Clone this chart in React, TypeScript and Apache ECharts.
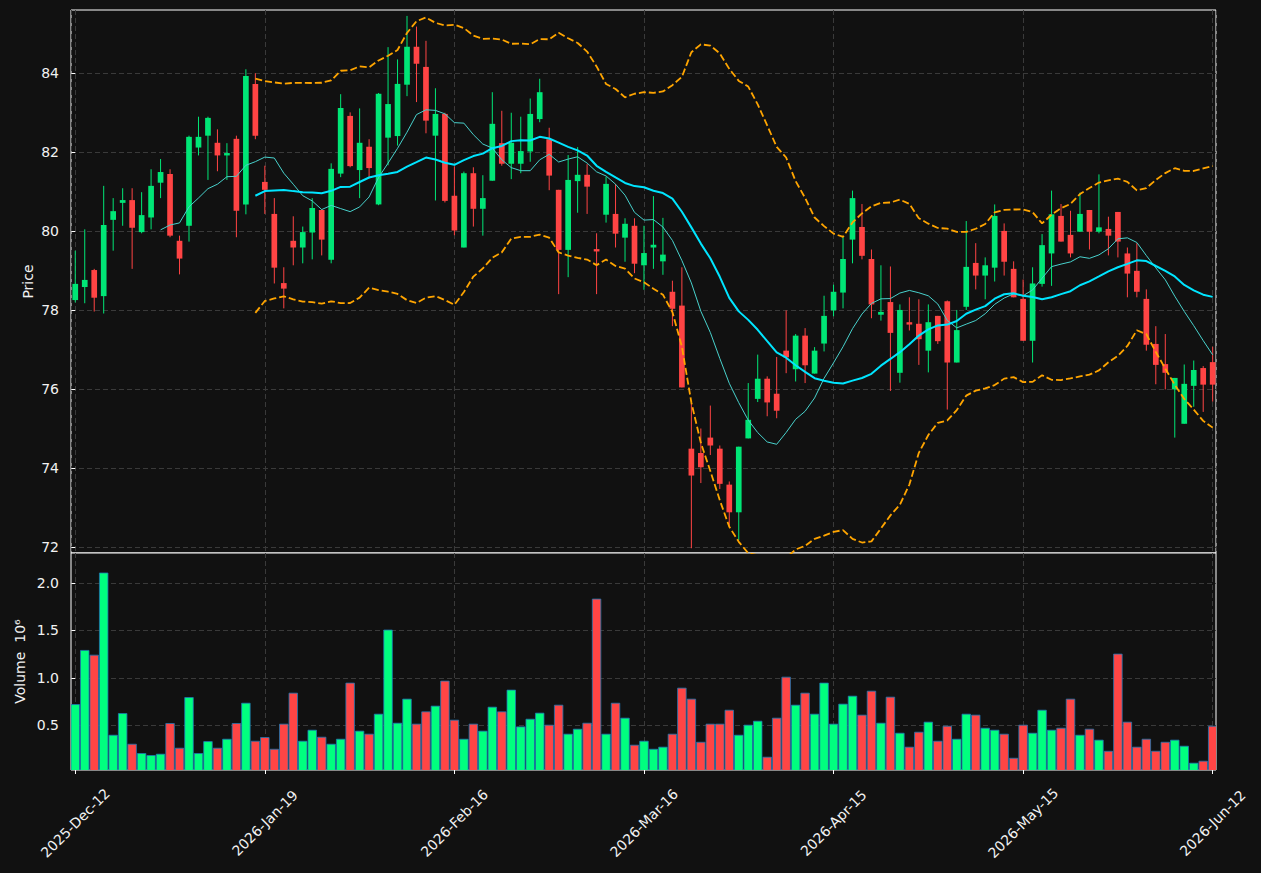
import React, { useEffect, useRef } from 'react';
import * as echarts from 'echarts';

const opens = [78.26,78.59,79.02,78.36,80.29,80.72,80.79,79.98,80.35,81.23,
81.45,79.76,80.14,82.12,82.42,82.24,81.92,82.34,80.68,83.73,
81.25,80.44,78.69,79.76,79.59,79.97,80.54,79.28,81.46,82.92,
81.55,82.14,80.68,82.37,82.41,83.71,84.67,84.16,82.42,82.97,
80.90,79.59,81.47,80.57,81.28,82.23,81.71,81.71,82.02,82.84,
82.33,81.05,79.53,81.27,81.43,79.55,80.42,80.44,79.84,80.14,
79.14,79.59,79.24,78.47,78.12,74.50,74.39,74.78,74.50,73.59,
72.89,74.76,75.76,76.27,75.89,76.98,76.51,77.36,76.40,77.16,
78.00,78.45,79.79,80.11,79.30,77.89,78.21,76.42,77.70,77.66,
76.98,77.86,78.23,76.68,78.09,79.20,78.88,79.08,80.01,79.05,
78.29,77.23,78.67,79.44,80.39,79.91,79.99,80.54,79.99,80.06,
80.49,79.44,79.00,78.29,77.15,76.64,76.00,75.13,76.09,76.54,
76.69];

const closes = [78.67,78.77,78.32,80.16,80.51,80.79,80.09,80.41,81.15,81.50,
79.89,79.31,82.39,82.39,82.87,81.92,81.98,80.52,83.93,82.42,
81.05,79.08,78.55,79.59,79.98,80.59,79.79,81.58,83.12,81.65,
82.24,81.60,83.48,83.22,83.73,84.67,84.24,82.80,82.97,80.77,
80.02,81.47,80.57,80.84,82.72,81.71,82.24,82.03,82.97,83.52,
81.41,79.53,81.30,81.43,81.13,79.49,81.20,79.94,80.19,79.18,
79.45,79.66,79.41,78.04,76.05,73.82,74.03,74.58,73.61,72.89,
74.55,75.23,76.27,75.67,75.46,76.81,77.36,76.61,76.98,77.86,
78.47,79.30,80.84,79.38,78.15,77.96,77.43,78.01,77.64,77.27,
77.70,77.22,76.68,77.50,79.10,78.88,79.14,80.39,79.23,78.33,
77.23,78.68,79.65,80.43,79.74,79.44,80.44,79.99,80.10,79.89,
79.74,78.93,78.47,77.13,76.62,76.42,76.29,76.14,76.49,76.12,
76.12];

const lows = [78.20,78.18,77.97,77.92,79.51,80.14,79.05,79.95,80.05,80.84,
79.85,78.91,79.74,81.92,81.30,81.52,81.30,79.85,80.43,82.33,
80.44,78.68,78.05,79.14,79.19,79.29,79.39,79.19,81.37,81.62,
80.84,81.34,80.66,81.67,82.17,83.42,83.27,82.48,80.78,80.73,
79.90,79.59,80.12,79.89,81.28,81.66,81.32,81.47,81.76,82.76,
81.04,78.41,78.84,80.47,80.44,78.41,80.22,79.59,79.23,78.94,
78.52,79.05,78.90,77.60,76.05,71.98,73.63,74.34,73.48,72.53,
72.19,74.76,75.68,75.32,75.27,76.41,76.20,76.16,76.40,76.96,
77.85,78.05,79.19,79.29,77.80,77.74,75.96,76.17,77.49,76.62,
76.43,77.15,75.49,76.68,78.01,78.53,78.28,78.73,78.88,78.33,
77.23,76.68,78.60,78.62,79.74,79.34,79.99,79.54,79.95,79.39,
79.34,78.33,78.33,76.98,76.13,76.00,74.78,75.13,75.56,75.43,
75.69];

const highs = [79.51,80.05,79.05,81.15,80.84,81.09,81.09,80.99,81.57,81.83,
81.57,79.89,82.42,82.90,82.90,82.58,82.23,82.42,84.10,84.00,
81.66,80.84,79.09,80.38,80.12,80.84,80.56,81.72,83.47,83.01,
83.11,82.33,83.50,84.66,84.35,85.45,85.18,84.82,83.62,83.00,
81.64,81.51,81.62,81.42,83.52,83.05,83.00,82.90,83.36,83.86,
82.62,81.05,81.93,82.13,81.70,79.95,81.38,81.20,80.33,80.33,
80.14,80.89,80.34,78.75,79.09,75.65,75.01,75.59,74.58,73.67,
74.55,76.16,76.88,76.33,76.82,78.00,77.40,77.55,77.07,78.37,
78.65,79.86,81.03,80.69,79.54,79.14,79.11,78.15,78.33,78.28,
78.15,77.86,78.25,78.01,80.26,79.70,79.34,80.68,80.20,79.24,
78.78,79.09,79.93,81.03,80.69,80.52,80.98,80.54,81.44,80.37,
80.49,79.59,79.70,78.53,77.60,77.40,76.29,76.63,76.73,76.59,
77.08];

// volume in millions
const volumes = [0.718,1.289,1.239,2.106,0.394,0.623,0.299,0.201,0.180,0.194,
0.518,0.257,0.792,0.201,0.327,0.257,0.352,0.518,0.732,0.331,
0.370,0.246,0.511,0.838,0.331,0.447,0.373,0.299,0.352,0.944,
0.437,0.405,0.616,1.504,0.521,0.775,0.511,0.641,0.701,0.965,
0.553,0.352,0.511,0.437,0.690,0.641,0.870,0.482,0.563,0.627,
0.500,0.711,0.405,0.458,0.521,1.831,0.405,0.732,0.574,0.289,
0.331,0.246,0.268,0.405,0.891,0.775,0.320,0.511,0.511,0.658,
0.394,0.500,0.542,0.162,0.574,1.007,0.711,0.838,0.616,0.944,
0.511,0.722,0.806,0.606,0.859,0.521,0.796,0.415,0.268,0.426,
0.532,0.331,0.489,0.352,0.616,0.606,0.468,0.447,0.405,0.151,
0.500,0.415,0.658,0.447,0.468,0.775,0.394,0.458,0.342,0.225,
1.250,0.532,0.268,0.352,0.225,0.320,0.342,0.278,0.099,0.120,
0.489];

const tickIndex = [0, 20, 40, 60, 80, 100, 120];
const tickLabels = ['2025-Dec-12', '2026-Jan-19', '2026-Feb-16', '2026-Mar-16', '2026-Apr-15', '2026-May-15', '2026-Jun-12'];
const priceTicks = [72, 74, 76, 78, 80, 82, 84];
const volumeTicks = [0.5, 1.0, 1.5, 2.0];

const BG = '#111111';
const TEXT = '#f2f2f2';
const GRID = '#3a3a3a';
const UP = '#00e676';
const DOWN = '#ff4444';
const VUP = '#00ff7f';
const VDOWN = '#ff4545';
const FONT = 'DejaVu Sans';

function rollingMean(values: number[], n: number): (number | null)[] {
  return values.map((_, i) => {
    if (i < n - 1) return null;
    let s = 0;
    for (let k = i - n + 1; k <= i; k++) s += values[k];
    return s / n;
  });
}

function rollingStd(values: number[], n: number): (number | null)[] {
  const m = rollingMean(values, n);
  return values.map((_, i) => {
    const mu = m[i];
    if (mu === null) return null;
    let s = 0;
    for (let k = i - n + 1; k <= i; k++) s += (values[k] - mu) * (values[k] - mu);
    return Math.sqrt(s / n);
  });
}

function toPairs(arr: (number | null)[]) {
  const out: number[][] = [];
  arr.forEach((v, i) => { if (v !== null) out.push([i, v]); });
  return out;
}

export default function App() {
  const ref = useRef<HTMLDivElement>(null);
  useEffect(() => {
    if (!ref.current) return;
    const chart = echarts.init(ref.current, null, { renderer: 'svg' });

    const sma10 = rollingMean(closes, 10);
    const sma20 = rollingMean(closes, 20);
    const std20 = rollingStd(closes, 20);
    const upper = sma20.map((m, i) => (m === null ? null : m + 2 * (std20[i] as number)));
    const lower = sma20.map((m, i) => (m === null ? null : m - 2 * (std20[i] as number)));

    const candleData = opens.map((o, i) => [i, o, closes[i], lows[i], highs[i]]);
    const volData = volumes.map((v, i) => [i, v, closes[i] >= opens[i] ? 1 : 0]);

    const labelStyle = { color: TEXT, fontSize: 14, fontFamily: FONT };
    const splitLine = { show: true, lineStyle: { color: GRID, type: [5, 3], width: 1 } };

    const option: any = {
      animation: false,
      backgroundColor: BG,
      grid: [
        { left: 71, right: 45, top: 10, height: 543, show: true, borderColor: '#ffffff', borderWidth: 1, backgroundColor: BG },
        { left: 71, right: 45, top: 553, height: 217, show: true, borderColor: '#ffffff', borderWidth: 1, backgroundColor: BG },
      ],
      xAxis: [
        {
          type: 'value', gridIndex: 0, min: -0.45, max: 120.35, minInterval: 20, maxInterval: 20,
          axisLine: { show: false }, axisTick: { show: false }, axisLabel: { show: false },
          splitLine,
        },
        {
          type: 'value', gridIndex: 1, min: -0.45, max: 120.35, minInterval: 20, maxInterval: 20,
          axisLine: { show: false },
          axisTick: { show: true, inside: false, length: 4, lineStyle: { color: '#ffffff' }, customValues: tickIndex },
          axisLabel: {
            ...labelStyle, customValues: tickIndex,
            rotate: 45, align: 'center', verticalAlign: 'middle', margin: 53,
            formatter: (v: number) => {
              const k = tickIndex.indexOf(Math.round(v));
              return k >= 0 ? tickLabels[k] : '';
            },
          },
          splitLine,
        },
      ],
      yAxis: [
        {
          type: 'value', gridIndex: 0, min: 71.86, max: 85.6, minInterval: 2, maxInterval: 2,
          name: 'Price', nameLocation: 'middle', nameGap: 36, nameMoveOverlap: false, nameTextStyle: labelStyle,
          axisLine: { show: false },
          axisTick: { show: true, inside: false, length: 4, lineStyle: { color: '#ffffff' }, customValues: priceTicks },
          axisLabel: { ...labelStyle, margin: 12, customValues: priceTicks, formatter: (v: number) => String(Math.round(v)) },
          splitLine,
        },
        {
          type: 'value', gridIndex: 1, min: 0.027, max: 2.317, minInterval: 0.5, maxInterval: 0.5,
          name: 'Volume  10\u2076', nameLocation: 'middle', nameGap: 44, nameMoveOverlap: false, nameTextStyle: labelStyle,
          axisLine: { show: false },
          axisTick: { show: true, inside: false, length: 4, lineStyle: { color: '#ffffff' }, customValues: volumeTicks },
          axisLabel: { ...labelStyle, margin: 12, customValues: volumeTicks, formatter: (v: number) => v.toFixed(1) },
          splitLine,
        },
      ],
      series: [
        {
          type: 'custom', name: 'Candles', xAxisIndex: 0, yAxisIndex: 0, clip: true,
          encode: { x: 0, y: [1, 2, 3, 4] },
          data: candleData,
          renderItem: (params: any, api: any) => {
            const i = api.value(0), o = api.value(1), c = api.value(2), l = api.value(3), h = api.value(4);
            const pO = api.coord([i, o]);
            const pC = api.coord([i, c]);
            const pL = api.coord([i, l]);
            const pH = api.coord([i, h]);
            const w = api.size([0.6, 0])[0];
            const color = c >= o ? UP : DOWN;
            const top = Math.min(pO[1], pC[1]);
            const bh = Math.max(Math.abs(pO[1] - pC[1]), 1);
            return {
              type: 'group',
              children: [
                { type: 'line', shape: { x1: pH[0], y1: pH[1], x2: pL[0], y2: pL[1] }, style: { stroke: color, lineWidth: 1 } },
                { type: 'rect', shape: { x: pO[0] - w / 2, y: top, width: w, height: bh }, style: { fill: color } },
              ],
            };
          },
        },
        {
          type: 'line', name: 'SMA10', xAxisIndex: 0, yAxisIndex: 0, data: toPairs(sma10), showSymbol: false, symbol: 'none',
          lineStyle: { color: '#48d1cc', width: 1 }, z: 3,
        },
        {
          type: 'line', name: 'SMA20', xAxisIndex: 0, yAxisIndex: 0, data: toPairs(sma20), showSymbol: false, symbol: 'none',
          lineStyle: { color: '#00e5ff', width: 2 }, z: 3,
        },
        {
          type: 'line', name: 'Upper', xAxisIndex: 0, yAxisIndex: 0, data: toPairs(upper), showSymbol: false, symbol: 'none',
          lineStyle: { color: '#ffa500', width: 1.8, type: [7, 3] }, z: 3,
        },
        {
          type: 'line', name: 'Lower', xAxisIndex: 0, yAxisIndex: 0, data: toPairs(lower), showSymbol: false, symbol: 'none',
          lineStyle: { color: '#ffa500', width: 1.8, type: [7, 3] }, z: 3,
        },
        {
          type: 'custom', name: 'Volume', xAxisIndex: 1, yAxisIndex: 1, clip: true,
          encode: { x: 0, y: 1 },
          data: volData,
          renderItem: (params: any, api: any) => {
            const i = api.value(0), v = api.value(1), up = api.value(2);
            const p1 = api.coord([i - 0.45, v]);
            const p0 = api.coord([i + 0.45, 0]);
            return {
              type: 'rect',
              shape: { x: p1[0], y: p1[1], width: p0[0] - p1[0], height: p0[1] - p1[1] },
              style: { fill: up ? VUP : VDOWN, stroke: '#1f77b4', lineWidth: 0.8 },
            };
          },
        },
      ],
    };

    chart.setOption(option);
    return () => chart.dispose();
  }, []);

  return (
    <div
      ref={ref}
      style={{ position: 'fixed', left: 0, top: 0, width: 1261, height: 873, background: BG }}
    />
  );
}
